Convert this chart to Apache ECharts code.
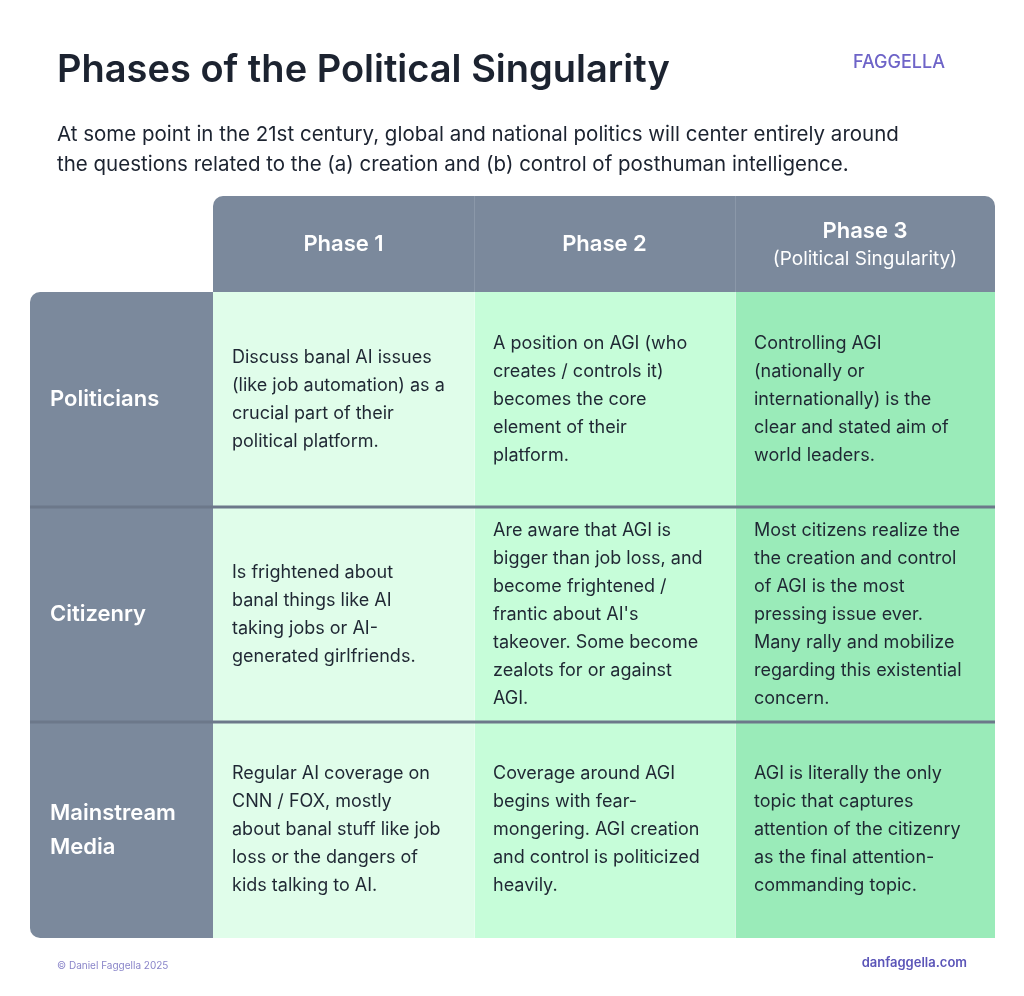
<!DOCTYPE html>
<html><head><meta charset="utf-8">
<script src="https://cdn.jsdelivr.net/npm/echarts@6/dist/echarts.min.js"></script>
<style>html,body{margin:0;padding:0;background:#fff}#c{width:1024px;height:996px}</style>
</head><body><div id="c"></div>
<script>
const columns = ['', 'Phase 1', 'Phase 2', 'Phase 3'];
const headerSub = ['', '', '', '(Political Singularity)'];
const rows = ['Politicians', 'Citizenry', 'Mainstream\nMedia'];
const colEdges = [0, 183, 444, 705, 965];
const rowEdges = [0, 96, 311, 526, 742];
const cellText = [
  ['Discuss banal AI issues\n(like job automation) as a\ncrucial part of their\npolitical platform.',
   'A position on AGI (who\ncreates / controls it)\nbecomes the core\nelement of their\nplatform.',
   'Controlling AGI\n(nationally or\ninternationally) is the\nclear and stated aim of\nworld leaders.'],
  ['Is frightened about\nbanal things like AI\ntaking jobs or AI-\ngenerated girlfriends.',
   'Are aware that AGI is\nbigger than job loss, and\nbecome frightened /\nfrantic about AI\'s\ntakeover. Some become\nzealots for or against\nAGI.',
   'Most citizens realize the\nthe creation and control\nof AGI is the most\npressing issue ever.\nMany rally and mobilize\nregarding this existential\nconcern.'],
  ['Regular AI coverage on\nCNN / FOX, mostly\nabout banal stuff like job\nloss or the dangers of\nkids talking to AI.',
   'Coverage around AGI\nbegins with fear-\nmongering. AGI creation\nand control is politicized\nheavily.',
   'AGI is literally the only\ntopic that captures\nattention of the citizenry\nas the final attention-\ncommanding topic.']
];
const colFill = ['#7b899c', '#e0fdea', '#c6fdd9', '#9aebb9'];
const FONT = 'Inter, "Noto Sans", sans-serif';

const data = [];
for (let r = 0; r < 4; r++) for (let c = 0; c < 4; c++) {
  if (r === 0 && c === 0) continue;
  data.push([c, r]);
}

function renderItem(params, api) {
  const c = api.value(0), r = api.value(1);
  const p0 = api.coord([colEdges[c], rowEdges[r]]);
  const p1 = api.coord([colEdges[c + 1], rowEdges[r + 1]]);
  const x = p0[0], y = p0[1], w = p1[0] - p0[0], h = p1[1] - p0[1];
  let fill = r === 0 ? '#7b899c' : colFill[c];
  let rad = [0, 0, 0, 0];
  if (r === 0 && c === 1) rad = [10, 0, 0, 0];
  if (r === 0 && c === 3) rad = [0, 10, 0, 0];
  if (r === 1 && c === 0) rad = [10, 0, 0, 0];
  if (r === 3 && c === 0) rad = [0, 0, 0, 10];
  const children = [{type: 'rect', shape: {x, y, width: w, height: h, r: rad}, style: {fill}}];
  if (c > 1) children.push({type: 'rect', shape: {x: x, y: y, width: 1, height: h}, style: {fill: r === 0 ? '#96a2b2' : '#ffffff', opacity: 0.6}});
  if (r >= 2) children.push({type: 'rect', shape: {x: x, y: y - 1.5, width: w, height: 3}, style: {fill: '#6c788a'}});
  if (r === 0) {
    const sub = headerSub[c];
    children.push({type: 'text', style: {text: columns[c], x: x + w / 2, y: y + h / 2 + (sub ? -13 : 0), align: 'center', verticalAlign: 'middle', fill: '#fff', font: '600 22px ' + FONT}});
    if (sub) children.push({type: 'text', style: {text: sub, x: x + w / 2, y: y + h / 2 + 15, align: 'center', verticalAlign: 'middle', fill: '#fff', font: '400 19px ' + FONT}});
  } else if (c === 0) {
    children.push({type: 'text', style: {text: rows[r - 1], x: x + 20, y: y + h / 2, align: 'left', verticalAlign: 'middle', fill: '#fff', font: '600 22px ' + FONT, lineHeight: 34}});
  } else {
    children.push({type: 'text', style: {text: cellText[r - 1][c - 1], x: x + 19, y: y + h / 2, align: 'left', verticalAlign: 'middle', fill: '#1f2733', font: '400 18px ' + FONT, lineHeight: 28}});
  }
  return {type: 'group', children};
}

const chart = echarts.init(document.getElementById('c'));
chart.setOption({
  animation: false,
  grid: {left: 30, top: 196, width: 965, height: 742},
  xAxis: {type: 'value', min: 0, max: 965, show: false},
  yAxis: {type: 'value', min: 0, max: 742, inverse: true, show: false},
  graphic: [
    {type: 'text', left: 57, top: 52, style: {text: 'Phases of the Political Singularity', fill: '#1c2330', font: '600 38px ' + FONT}},
    {type: 'text', left: 853, top: 54, style: {text: 'FAGGELLA', fill: '#6e64c8', font: '500 18px ' + FONT, letterSpacing: 4}},
    {type: 'text', left: 57, top: 120, style: {text: 'At some point in the 21st century, global and national politics will center entirely around\nthe questions related to the (a) creation and (b) control of posthuman intelligence.', fill: '#1c2330', font: '400 20.5px ' + FONT, lineHeight: 30}},
    {type: 'text', left: 57, top: 961, style: {text: '© Daniel Faggella 2025', fill: '#8a85c9', font: '400 10px ' + FONT}},
    {type: 'text', right: 57, top: 957, style: {text: 'danfaggella.com', fill: '#5b55b8', font: '600 13px ' + FONT}}
  ],
  series: [{type: 'custom', renderItem, data, clip: false}]
});
</script></body></html>
